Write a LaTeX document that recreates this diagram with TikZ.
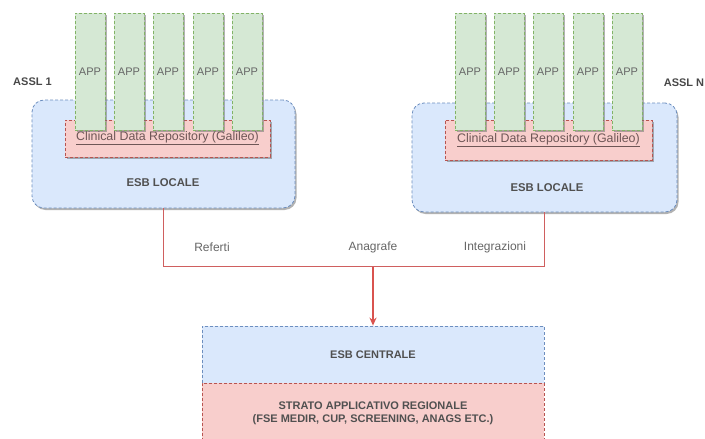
\documentclass[tikz,border=0pt]{standalone}
\usepackage{fontspec}
\setmainfont{Liberation Sans}
\usetikzlibrary{arrows.meta}
\usetikzlibrary{shadows}

\definecolor{esbfill}{HTML}{DAE8FC}
\definecolor{esbline}{HTML}{6C8EBF}
\definecolor{cdrfill}{HTML}{F8CECC}
\definecolor{cdrline}{HTML}{B85450}
\definecolor{appfill}{HTML}{D5E8D4}
\definecolor{appline}{HTML}{82B366}
\definecolor{txtgray}{HTML}{666666}
\definecolor{boldgray}{HTML}{505050}
\definecolor{cdrtext}{HTML}{6E5656}
\definecolor{linkred}{HTML}{CF5F5F}
\definecolor{arrowred}{HTML}{D9534F}

\tikzset{
  boxshadow/.style={drop shadow={shadow xshift=1.5pt, shadow yshift=-2pt, opacity=0.55, fill=black!55}},
  dashbox/.style={line width=0.8pt, dash pattern=on 3pt off 2pt, inner sep=0pt},
  esbbox/.style={dashbox, draw=esbline, fill=esbfill, rounded corners=12pt, boxshadow},
  cdrbox/.style={dashbox, draw=cdrline, fill=cdrfill, boxshadow, text=cdrtext,
    font=\fontsize{12.4}{14}\selectfont},
  appbox/.style={dashbox, draw=appline, fill=appfill, boxshadow, minimum width=30pt,
    minimum height=117pt, text=txtgray, font=\fontsize{11}{13}\selectfont},
  centbox/.style={dashbox, draw=esbline, fill=esbfill, text=boldgray, align=center,
    font=\fontsize{11}{14}\selectfont\bfseries},
  stratobox/.style={dashbox, draw=cdrline, fill=cdrfill, text=boldgray, align=center,
    font=\fontsize{11}{13.5}\selectfont\bfseries},
  esblabel/.style={text=boldgray, font=\fontsize{11.3}{13}\selectfont\bfseries},
  assllabel/.style={text=boldgray!90!black, font=\fontsize{11}{13}\selectfont\bfseries},
  linklabel/.style={text=txtgray, font=\fontsize{12}{14}\selectfont},
  link/.style={draw=linkred, line width=1pt},
  flow/.style={draw=arrowred, line width=1.8pt, -{Stealth[length=8pt, width=7pt]}}
}

\begin{document}
\begin{tikzpicture}[x=1pt, y=-1pt]
\useasboundingbox (0,0) rectangle (705,439);
\node[esbbox, minimum width=263pt, minimum height=108pt] (esb1) at (163.5, 154) {};
\node[esbbox, minimum width=265pt, minimum height=109pt] (esb2) at (544.5, 157.5) {};
\node[cdrbox, minimum width=205pt, minimum height=37pt] (cdr1) at (167.5, 138.5) {\underline{Clinical Data Repository (Galileo)}};
\node[cdrbox, minimum width=207pt, minimum height=40pt] (cdr2) at (548.5, 140) {\underline{Clinical Data Repository (Galileo)}};
\foreach \i/\x in {1/90, 2/129, 3/168, 4/208, 5/247}
  \node[appbox] (appa\i) at (\x, 71.5) {APP};
\foreach \i/\x in {1/470, 2/509, 3/548, 4/588, 5/627}
  \node[appbox] (appn\i) at (\x, 71.5) {APP};
\node[esblabel] (local1) at (163, 183) {ESB LOCALE};
\node[esblabel] (localn) at (547, 188) {ESB LOCALE};
\node[assllabel] (assl1) at (32.5, 82) {ASSL 1};
\node[assllabel] (assln) at (684,  83) {ASSL N};
\node[centbox, minimum width=342pt, minimum height=57pt] (central) at (373, 354.5) {ESB CENTRALE};
\node[stratobox, minimum width=342pt, minimum height=61pt] (strato) at (373, 413.5) {STRATO APPLICATIVO REGIONALE\\(FSE MEDIR, CUP, SCREENING, ANAGS ETC.)};
\coordinate (join) at (373, 266.5);
\draw[link] (esb1.south) |- (join) -| (esb2.south);
\draw[flow] (join) -- (central.north);
\node[linklabel] (referti)      at (212, 247) {Referti};
\node[linklabel] (anagrafe)     at (373, 247) {Anagrafe};
\node[linklabel] (integrazioni) at (495, 247) {Integrazioni};
\end{tikzpicture}
\end{document}
